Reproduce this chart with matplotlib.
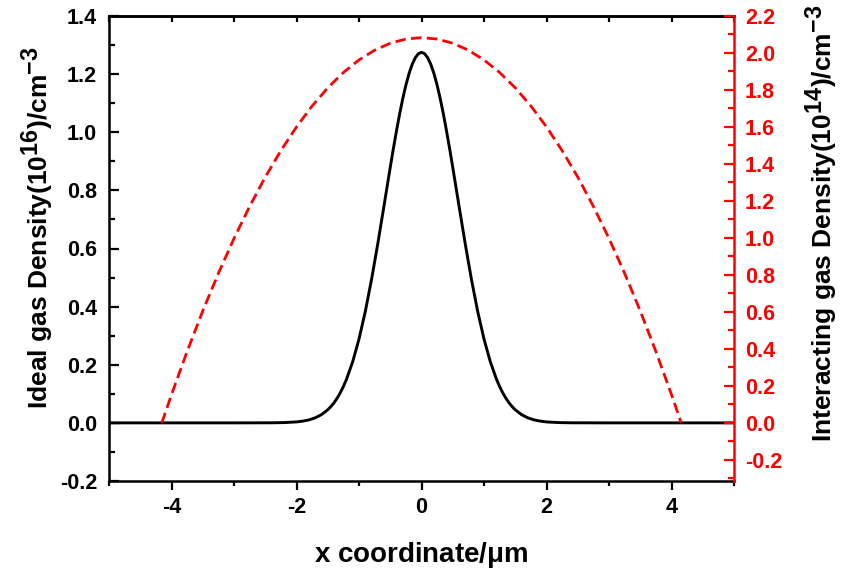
import matplotlib
matplotlib.use("Agg")
import matplotlib.pyplot as plt
from matplotlib.ticker import MultipleLocator, FormatStrFormatter
try:
    import matplotlib._mathtext as _mt
    _mt.SHRINK_FACTOR = 0.88
except Exception:
    pass

# ---- data ----
x_ideal = [-5.0, -3.0, -2.4, -2.2, -2.0, -1.9, -1.8, -1.7, -1.6, -1.5, -1.45, -1.4, -1.35, -1.3,
           -1.25, -1.2, -1.1, -1.0, -0.9, -0.8, -0.7, -0.6, -0.5, -0.45, -0.4, -0.35, -0.3,
           -0.25, -0.2, -0.15, -0.1, -0.05, 0.0,
           0.05, 0.1, 0.15, 0.2, 0.25, 0.3, 0.35, 0.4, 0.45, 0.5, 0.6, 0.7, 0.8, 0.9, 1.0,
           1.1, 1.2, 1.25, 1.3, 1.35, 1.4, 1.45, 1.5, 1.6, 1.7, 1.8, 1.9, 2.0, 2.2, 2.4, 3.0, 5.0]
y_ideal = [0.0, 0.0, 0.0003, 0.001, 0.0033, 0.006, 0.0103, 0.0174, 0.0284, 0.045, 0.056, 0.0692,
           0.0849, 0.1034, 0.125, 0.150, 0.2111, 0.2884, 0.3825, 0.4925, 0.6155, 0.7467, 0.8793,
           0.9436, 1.0051, 1.0628, 1.1154, 1.1619, 1.2014, 1.2331, 1.256, 1.2703, 1.275,
           1.2703, 1.256, 1.2331, 1.2014, 1.1619, 1.1154, 1.0628, 1.0051, 0.9436, 0.8793,
           0.7467, 0.6155, 0.4925, 0.3825, 0.2884, 0.2111, 0.150, 0.125, 0.1034, 0.0849,
           0.0692, 0.056, 0.045, 0.0284, 0.0174, 0.0103, 0.006, 0.0033, 0.001, 0.0003, 0.0, 0.0]

x_inter = [-4.155, -4.0, -3.75, -3.5, -3.25, -3.0, -2.75, -2.5, -2.25, -2.0, -1.75, -1.5, -1.25,
           -1.0, -0.75, -0.5, -0.25, 0.0, 0.25, 0.5, 0.75, 1.0, 1.25, 1.5, 1.75, 2.0, 2.25, 2.5,
           2.75, 3.0, 3.25, 3.5, 3.75, 4.0, 4.155]
y_inter = [0.0, 0.1525, 0.3863, 0.605, 0.8086, 0.9971, 1.1705, 1.3289, 1.4722, 1.6004, 1.7135,
           1.8115, 1.8945, 1.9624, 2.0151, 2.0528, 2.0755, 2.083, 2.0755, 2.0528, 2.0151, 1.9624,
           1.8945, 1.8115, 1.7135, 1.6004, 1.4722, 1.3289, 1.1705, 0.9971, 0.8086, 0.605, 0.3863,
           0.1525, 0.0]

x_label = r"x coordinate/$\mu$m"
yl_label = r"Ideal gas Density(10$^{16}$)/cm$^{-3}$"
yr_label = r"Interacting gas Density(10$^{14}$)/cm$^{-3}$"

# ---- style ----
plt.rcParams['font.family'] = ['Liberation Sans', 'DejaVu Sans']
plt.rcParams['font.weight'] = 'bold'
plt.rcParams['mathtext.fontset'] = 'custom'
plt.rcParams['mathtext.rm'] = 'Liberation Sans:bold'
plt.rcParams['mathtext.bf'] = 'Liberation Sans:bold'
plt.rcParams['mathtext.it'] = 'Liberation Sans:bold'
plt.rcParams['mathtext.default'] = 'bf'
plt.rcParams['axes.unicode_minus'] = False

TICK_FS = 15.5
LABEL_FS = 19

fig = plt.figure(figsize=(8.41, 5.72), dpi=100)
ax = fig.add_axes([109/841, 1-481/572, (734-109)/841, (481-16)/572])
ax2 = ax.twinx()

ax.plot(x_ideal, y_ideal, color='black', lw=2.1, solid_joinstyle='round')
ax2.plot(x_inter, y_inter, color='#ff0000', lw=2.0, dashes=(3.8, 1.9))

ax.set_xlim(-5, 5)
ax.set_ylim(-0.2, 1.4)
ax2.set_ylim(-0.2*2.2/1.4, 2.2)

# x ticks
ax.xaxis.set_major_locator(MultipleLocator(2))
ax.xaxis.set_minor_locator(MultipleLocator(1))
ax.tick_params(axis='x', which='major', direction='out', length=6.5, width=1.6, pad=5,
               labelsize=TICK_FS, top=False)
ax.tick_params(axis='x', which='minor', direction='out', length=3.5, width=1.6, top=False)
# left y ticks
ax.yaxis.set_major_locator(MultipleLocator(0.2))
ax.yaxis.set_minor_locator(MultipleLocator(0.1))
ax.yaxis.set_major_formatter(FormatStrFormatter('%.1f'))
ax.tick_params(axis='y', which='major', direction='in', length=7, width=1.6, pad=8.5,
               labelsize=TICK_FS, right=False)
ax.tick_params(axis='y', which='minor', direction='in', length=4, width=1.6, right=False)

# top ticks (inward, every 1)
axt = ax.secondary_xaxis('top')
axt.xaxis.set_major_locator(MultipleLocator(1))
axt.tick_params(axis='x', which='major', direction='in', length=4.5, width=1.6, labeltop=False)
axt.tick_params(axis='x', which='minor', length=0)
axt.spines['top'].set_linewidth(1.8)

# right y axis
ax2.yaxis.set_major_locator(MultipleLocator(0.2))
ax2.yaxis.set_minor_locator(MultipleLocator(0.1))
ax2.yaxis.set_major_formatter(FormatStrFormatter('%.1f'))
ax2.tick_params(axis='y', which='major', direction='in', length=7, width=1.6, pad=8,
                labelsize=TICK_FS, colors='#ff0000')
ax2.tick_params(axis='y', which='minor', direction='in', length=4, width=1.6, colors='#ff0000')

for sp in ax.spines.values():
    sp.set_linewidth(1.8)
for sp in ax2.spines.values():
    sp.set_linewidth(1.8)
ax2.spines['right'].set_color('#ff0000')
ax.spines['right'].set_visible(False)
ax2.spines['left'].set_visible(False)
ax2.spines['top'].set_visible(False)
ax2.spines['bottom'].set_visible(False)

for lab in ax.get_xticklabels() + ax.get_yticklabels() + ax2.get_yticklabels():
    lab.set_fontweight('bold')

ax.set_xlabel(x_label, fontsize=20, fontweight='bold')
ax.xaxis.set_label_coords(0.5, -(555-481)/465)
ax.xaxis.label.set_va('center')

ax.set_ylabel(yl_label, fontsize=LABEL_FS, fontweight='bold')
ax.yaxis.label.set_rotation_mode('default')
ax.yaxis.label.set_ha('center')
ax.yaxis.label.set_va('center')
ax.yaxis.set_label_coords((38-109)/625, (481-228)/465)

ax2.set_ylabel(yr_label, fontsize=LABEL_FS, fontweight='bold', color='black')
ax2.yaxis.label.set_rotation(90)
ax2.yaxis.label.set_rotation_mode('default')
ax2.yaxis.label.set_ha('center')
ax2.yaxis.label.set_va('center')
ax2.yaxis.set_label_coords((822-109)/625, (481-223)/465)

fig.savefig('out.png', dpi=100)
